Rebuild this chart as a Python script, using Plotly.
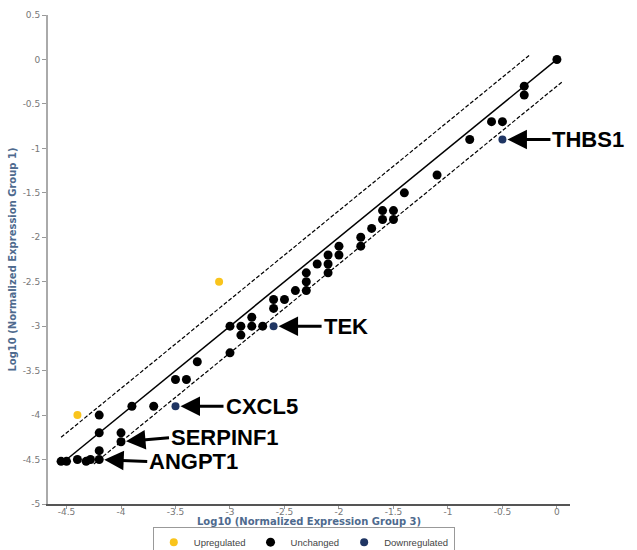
import plotly.graph_objects as go

# ---- data ----
up_x = [-4.4, -3.1]
up_y = [-4.0, -2.5]

down_x = [-0.5, -2.6, -3.5]
down_y = [-0.9, -3.0, -3.9]

unch_x = [0.0, -0.3, -0.3, -0.6, -0.5, -0.8, -1.1, -1.4, -1.5, -1.5, -1.6, -1.6,
          -1.7, -1.8, -1.8, -2.0, -2.0, -2.1, -2.1, -2.1, -2.2, -2.3, -2.3, -2.3,
          -2.4, -2.5, -2.6, -2.6, -2.7, -2.8, -2.8, -2.9, -2.9, -3.0, -3.0, -3.3,
          -3.4, -3.5, -3.7, -3.9, -4.0, -4.0, -4.2, -4.2, -4.2, -4.2, -4.28, -4.32,
          -4.4, -4.5, -4.55]
unch_y = [0.0, -0.3, -0.4, -0.7, -0.7, -0.9, -1.3, -1.5, -1.7, -1.8, -1.7, -1.8,
          -1.9, -2.0, -2.1, -2.1, -2.2, -2.2, -2.3, -2.4, -2.3, -2.4, -2.5, -2.6,
          -2.6, -2.7, -2.7, -2.8, -3.0, -2.9, -3.0, -3.0, -3.1, -3.0, -3.3, -3.4,
          -3.6, -3.6, -3.9, -3.9, -4.2, -4.3, -4.0, -4.2, -4.4, -4.5, -4.5, -4.52,
          -4.5, -4.52, -4.52]

fold_threshold = 0.3  # log10 fold-change boundary
diag_x = [-4.55, 0.0]
upper_x = [-4.55, -0.25]
lower_x = [-4.25, 0.05]

gene_labels = ["THBS1", "TEK", "CXCL5", "SERPINF1", "ANGPT1"]
gene_x = [-0.5, -2.6, -3.5, -4.0, -4.2]
gene_y = [-0.9, -3.0, -3.9, -4.3, -4.5]

# ---- figure ----
fig = go.Figure()

fig.add_trace(go.Scatter(x=diag_x, y=diag_x, mode="lines",
                         line=dict(color="black", width=1.5), showlegend=False, hoverinfo="skip"))
fig.add_trace(go.Scatter(x=upper_x, y=[v + fold_threshold for v in upper_x], mode="lines",
                         line=dict(color="black", width=1.2, dash="4px,2px"), showlegend=False, hoverinfo="skip"))
fig.add_trace(go.Scatter(x=lower_x, y=[v - fold_threshold for v in lower_x], mode="lines",
                         line=dict(color="black", width=1.2, dash="4px,2px"), showlegend=False, hoverinfo="skip"))

fig.add_trace(go.Scatter(x=up_x, y=up_y, mode="markers", name="Upregulated",
                         marker=dict(color="#F9C41C", size=8)))
fig.add_trace(go.Scatter(x=unch_x, y=unch_y, mode="markers", name="Unchanged",
                         marker=dict(color="black", size=9)))
fig.add_trace(go.Scatter(x=down_x, y=down_y, mode="markers", name="Downregulated",
                         marker=dict(color="#1F3563", size=8)))

label_dy = [0, 0, 0, -4, 2]
for lab, gx, gy, dy in zip(gene_labels, gene_x, gene_y, label_dy):
    fig.add_annotation(x=gx, y=gy, xref="x", yref="y", text="<b>%s</b>" % lab,
                       showarrow=True, ax=48, ay=dy, xanchor="left",
                       arrowhead=2, arrowsize=1.3, arrowwidth=3, arrowcolor="black",
                       standoff=5,
                       font=dict(family="Liberation Sans, Arial", size=22, color="black"))

axis_font = dict(family="DejaVu Sans", size=9, color="#777777")
title_font = dict(family="DejaVu Sans", size=10, color="#4E6A8E")

# x-axis title placed just under the tick labels
fig.add_annotation(x=0.5, y=-0.036, xref="paper", yref="paper", showarrow=False,
                   xanchor="center", yanchor="middle",
                   text="<b>Log10 (Normalized Expression Group 3)</b>", font=title_font)

fig.update_layout(
    width=637, height=550,
    margin=dict(l=48, r=67, t=15, b=46, autoexpand=False),
    plot_bgcolor="white", paper_bgcolor="white",
    showlegend=True,
    legend=dict(orientation="h", x=0.49, xanchor="center", y=-0.078, yanchor="middle",
                bordercolor="#999999", borderwidth=1,
                font=dict(family="Liberation Sans", size=9.5, color="#444444"),
                itemwidth=30, tracegroupgap=0),
    xaxis=dict(range=[-4.67, 0.12], tickvals=[-4.5, -4, -3.5, -3, -2.5, -2, -1.5, -1, -0.5, 0],
               ticktext=["-4.5", "-4", "-3.5", "-3", "-2.5", "-2", "-1.5", "-1", "-0.5", "0"],
               showgrid=False, zeroline=False, showline=True, linecolor="#555555", linewidth=1.5,
               ticks="outside", ticklen=3, tickcolor="#999999", tickfont=axis_font,
               ticklabelstandoff=-5),
    yaxis=dict(range=[-5, 0.5], tickvals=[-5, -4.5, -4, -3.5, -3, -2.5, -2, -1.5, -1, -0.5, 0, 0.5],
               ticktext=["-5", "-4.5", "-4", "-3.5", "-3", "-2.5", "-2", "-1.5", "-1", "-0.5", "0", "0.5"],
               showgrid=False, zeroline=False, showline=True, linecolor="#AAAAAA", linewidth=2,
               ticks="outside", ticklen=4, tickcolor="#999999", tickfont=axis_font,
               title=dict(text="<b>Log10 (Normalized Expression Group 1)</b>", font=title_font, standoff=4)),
)

fig.write_html("out.html")
